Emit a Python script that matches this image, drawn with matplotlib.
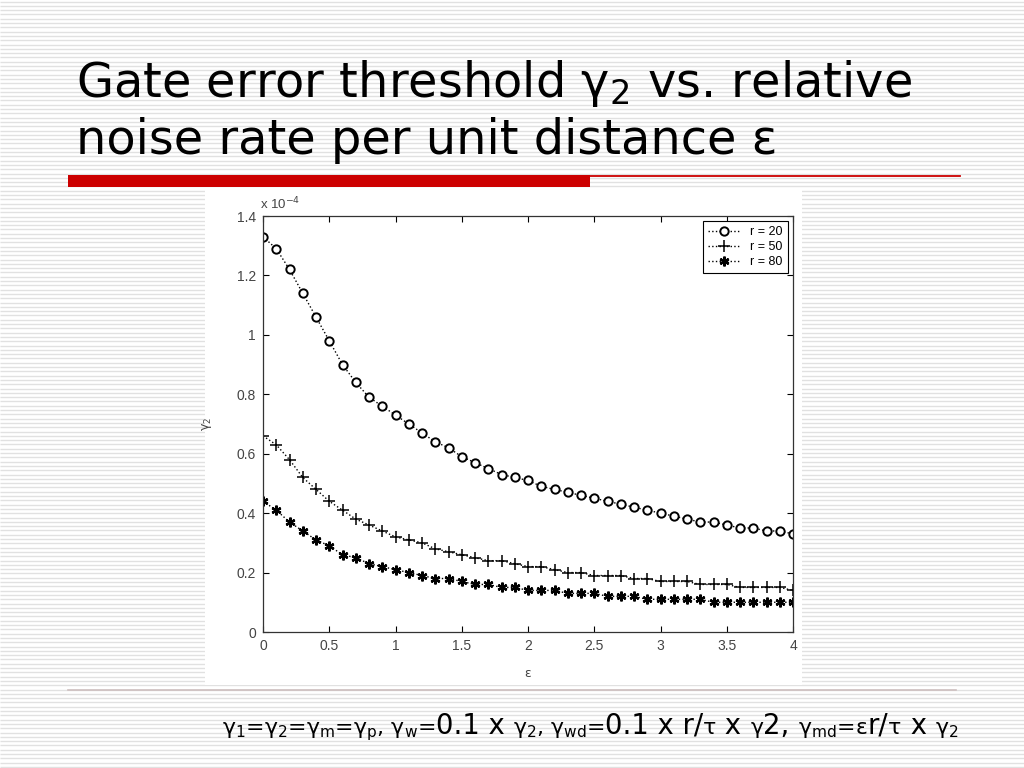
import numpy as np
import matplotlib
matplotlib.use("Agg")
import matplotlib.pyplot as plt
from matplotlib.patches import Rectangle

# data (gamma_2 in units of 1e-4)
eps = np.round(np.arange(0, 4.01, 0.1), 1)
r20 = [1.33, 1.29, 1.22, 1.14, 1.06, 0.98, 0.90, 0.84, 0.79, 0.76,
       0.73, 0.70, 0.67, 0.64, 0.62, 0.59, 0.57, 0.55, 0.53, 0.52,
       0.51, 0.49, 0.48, 0.47, 0.46, 0.45, 0.44, 0.43, 0.42, 0.41,
       0.40, 0.39, 0.38, 0.37, 0.37, 0.36, 0.35, 0.35, 0.34, 0.34, 0.33]
r50 = [0.66, 0.63, 0.58, 0.52, 0.48, 0.44, 0.41, 0.38, 0.36, 0.34,
       0.32, 0.31, 0.30, 0.28, 0.27, 0.26, 0.25, 0.24, 0.24, 0.23,
       0.22, 0.22, 0.21, 0.20, 0.20, 0.19, 0.19, 0.19, 0.18, 0.18,
       0.17, 0.17, 0.17, 0.16, 0.16, 0.16, 0.15, 0.15, 0.15, 0.15, 0.14]
r80 = [0.44, 0.41, 0.37, 0.34, 0.31, 0.29, 0.26, 0.25, 0.23, 0.22,
       0.21, 0.20, 0.19, 0.18, 0.18, 0.17, 0.16, 0.16, 0.15, 0.15,
       0.14, 0.14, 0.14, 0.13, 0.13, 0.13, 0.12, 0.12, 0.12, 0.11,
       0.11, 0.11, 0.11, 0.11, 0.10, 0.10, 0.10, 0.10, 0.10, 0.10, 0.10]
labels = ["r = 20", "r = 50", "r = 80"]
xticks = [0, 0.5, 1, 1.5, 2, 2.5, 3, 3.5, 4]
yticks = [0, 0.2, 0.4, 0.6, 0.8, 1, 1.2, 1.4]

fig = plt.figure(figsize=(10.24, 7.68), dpi=100)

# slide background in pixel coordinates
bg = fig.add_axes([0, 0, 1, 1])
bg.set_xlim(0, 1024)
bg.set_ylim(768, 0)
bg.axis("off")
bg.hlines(np.arange(1.5, 768, 4.3), 0, 1024, color="#e1e1e1", lw=1.0, zorder=1)
bg.add_patch(Rectangle((68, 175), 522, 12, color="#cc0000", lw=0, zorder=3))
bg.plot([590, 960], [175.5, 175.5], color="#cc0000", lw=1.3, zorder=3)
bg.add_patch(Rectangle((205, 190), 597, 495, color="white", lw=0, zorder=3))
bg.plot([68, 956], [689.5, 689.5], color="#cdbfbf", lw=1.2, zorder=3)

bg.text(76, 97, "Gate error threshold γ$_2$ vs. relative", fontsize=34.5,
        va="baseline", ha="left", color="black", zorder=4)
bg.text(76, 154, "noise rate per unit distance ε", fontsize=34.5,
        va="baseline", ha="left", color="black", zorder=4)

# formula line at the bottom, mixed font sizes
pieces = [("γ$_1$=γ$_2$=γ$_{\\mathrm{m}}$=γ$_{\\mathrm{p}}$, γ$_{\\mathrm{w}}$=", 15.8),
          ("0.1 x ", 19.8), ("γ$_2$, γ$_{\\mathrm{wd}}$=", 15.8), ("0.1 x r/", 19.8),
          ("τ", 15.8), (" x ", 19.8), ("γ", 15.8), ("2, ", 19.8),
          ("γ$_{\\mathrm{md}}$=ε", 15.8), ("r/", 19.8), ("τ", 15.8), (" x ", 19.8),
          ("γ$_2$", 15.8)]
renderer = fig.canvas.get_renderer()
xpos = 222
for s, size in pieces:
    t = bg.text(xpos, 734, s, fontsize=size, va="baseline", ha="left", zorder=4)
    xpos += t.get_window_extent(renderer).width

# the chart
ax = fig.add_axes([263 / 1024, 1 - 632 / 768, 530 / 1024, 416 / 768])
ax.plot(eps, r20, ":", color="black", lw=1, marker="o", ms=6,
        mfc="white", mec="black", mew=1.4, label=labels[0])
ax.plot(eps, r50, ":", color="black", lw=1, marker="+", ms=8,
        mec="black", mew=1.1, label=labels[1])
ax.plot(eps, r80, ":", color="black", lw=1, marker=(6, 2, 0), ms=7,
        mec="black", mew=1.7, label=labels[2])
ax.set_xlim(0, 4)
ax.set_ylim(0, 1.4)
ax.set_xticks(xticks)
ax.set_xticklabels(["0", "0.5", "1", "1.5", "2", "2.5", "3", "3.5", "4"])
ax.set_yticks(yticks)
ax.set_yticklabels(["0", "0.2", "0.4", "0.6", "0.8", "1", "1.2", "1.4"])
ax.tick_params(direction="in", top=True, right=True, length=4, width=0.8,
               labelsize=10, labelcolor="#444444", pad=5)
for lab in ax.get_xticklabels() + ax.get_yticklabels():
    lab.set_family("Liberation Sans")
for sp in ax.spines.values():
    sp.set_linewidth(0.9)
    sp.set_color("#333333")
ax.set_xlabel("ε", fontsize=9, color="#444444", labelpad=10)
ax.set_ylabel("γ$_2$", fontsize=9, color="#444444", labelpad=16)
ax.text(-0.005, 1.01, "x 10$^{-4}$", transform=ax.transAxes, fontsize=9.5,
        color="#444444", family="Liberation Sans", va="bottom")
leg = ax.legend(loc="upper right", handlelength=2.6,
                borderpad=0.4, labelspacing=0.25, handletextpad=0.8,
                fancybox=False, framealpha=1, borderaxespad=0.4,
                prop={"family": "Liberation Sans", "size": 9})
leg.get_frame().set_edgecolor("black")
leg.get_frame().set_linewidth(0.8)

fig.savefig("out.png", dpi=100)
